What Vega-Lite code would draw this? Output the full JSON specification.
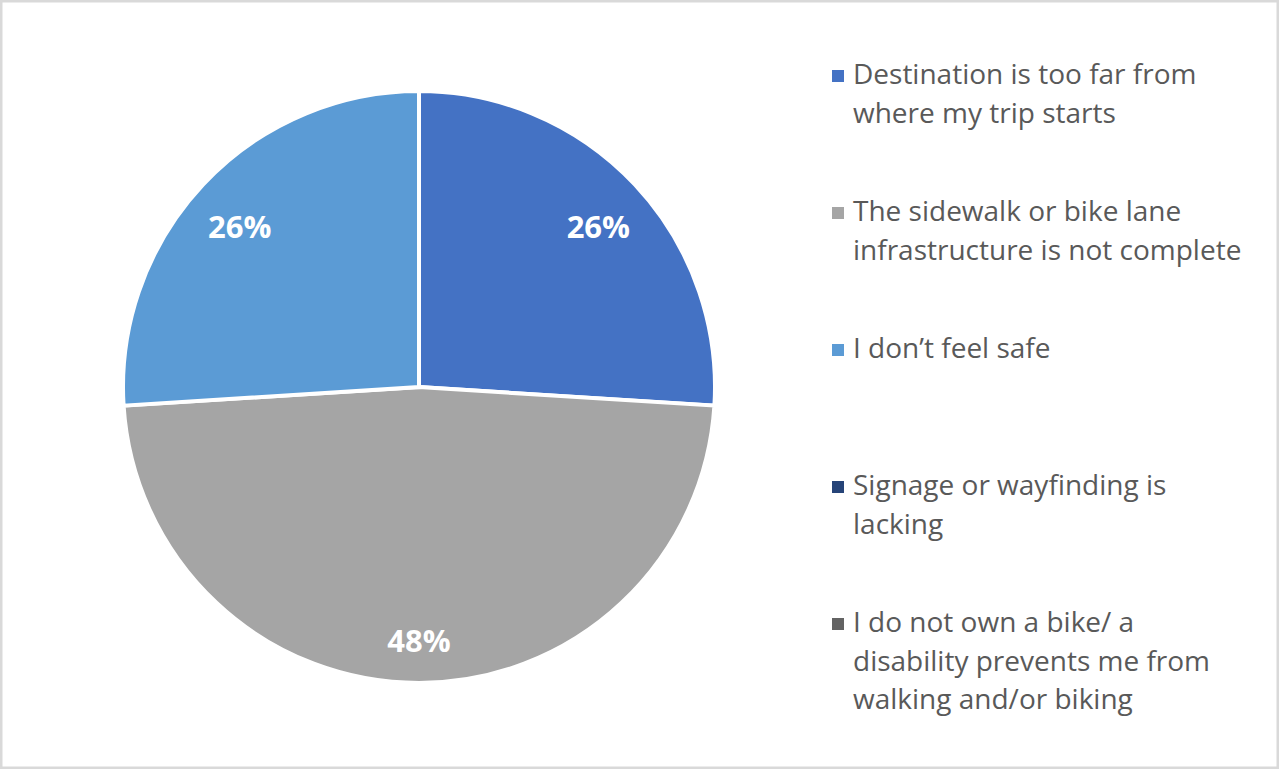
{
  "$schema": "https://vega.github.io/schema/vega-lite/v6.json",
  "width": 1279,
  "height": 769,
  "autosize": {"type": "fit", "contains": "padding"},
  "padding": 0,
  "background": "white",
  "view": {"stroke": "#D9D9D9", "strokeWidth": 5},
  "config": {
    "view": {"stroke": "#D9D9D9", "strokeWidth": 5},
    "style": {
      "cell": {"stroke": "#D9D9D9", "strokeWidth": 5},
      "guide-label": {"lineHeight": 38.5, "dy": -14}
    }
  },
  "data": {
    "values": [
      {"idx": 1, "reason": "Destination is too far from where my trip starts", "share": 0.26},
      {"idx": 2, "reason": "The sidewalk or bike lane infrastructure is not complete", "share": 0.48},
      {"idx": 3, "reason": "I don’t feel safe", "share": 0.26},
      {"idx": 4, "reason": "Signage or wayfinding is lacking", "share": 0},
      {"idx": 5, "reason": "I do not own a bike/ a disability prevents me from walking and/or biking", "share": 0}
    ]
  },
  "encoding": {
    "theta": {"field": "share", "type": "quantitative", "stack": true},
    "order": {"field": "idx", "type": "quantitative"}
  },
  "layer": [
    {
      "mark": {
        "type": "arc",
        "radius": 296,
        "x": {"expr": "width * 0.3276"},
        "y": {"expr": "height * 0.5033"},
        "stroke": "white",
        "strokeWidth": 4
      },
      "encoding": {
        "color": {
          "field": "reason",
          "type": "nominal",
          "scale": {
            "domain": [
              "Destination is too far from where my trip starts",
              "The sidewalk or bike lane infrastructure is not complete",
              "I don’t feel safe",
              "Signage or wayfinding is lacking",
              "I do not own a bike/ a disability prevents me from walking and/or biking"
            ],
            "range": ["#4472C4", "#A5A5A5", "#5B9BD5", "#264478", "#636363"]
          },
          "legend": {
            "title": null,
            "orient": "none",
            "legendX": 824,
            "legendY": 62,
            "padding": 0,
            "symbolType": "square",
            "symbolSize": 144,
            "symbolStrokeWidth": 0,
            "labelFont": "Open Sans",
            "labelFontSize": 28,
            "labelColor": "#595959",
            "labelLimit": 600,
            "labelOffset": 1,
            "labelBaseline": "top",
            "rowPadding": 32,
            "labelExpr": "datum.label == 'Destination is too far from where my trip starts' ? ['Destination is too far from', 'where my trip starts', ''] : datum.label == 'The sidewalk or bike lane infrastructure is not complete' ? ['The sidewalk or bike lane', 'infrastructure is not complete', ''] : datum.label == 'Signage or wayfinding is lacking' ? ['Signage or wayfinding is', 'lacking', ''] : datum.label == 'I do not own a bike/ a disability prevents me from walking and/or biking' ? ['I do not own a bike/ a', 'disability prevents me from', 'walking and/or biking'] : [datum.label, '', '']"
          }
        }
      }
    },
    {
      "transform": [{"filter": "datum.share > 0"}],
      "mark": {
        "type": "text",
        "radius": 246,
        "dy": 10,
        "x": {"expr": "width * 0.3276"},
        "y": {"expr": "height * 0.5033"},
        "font": "Open Sans",
        "fontWeight": "bold",
        "fontSize": 31,
        "baseline": "middle",
        "align": "center"
      },
      "encoding": {
        "detail": {"field": "reason", "type": "nominal"},
        "text": {"field": "share", "type": "quantitative", "format": ".0%"},
        "color": {"value": "white"}
      }
    }
  ]
}
